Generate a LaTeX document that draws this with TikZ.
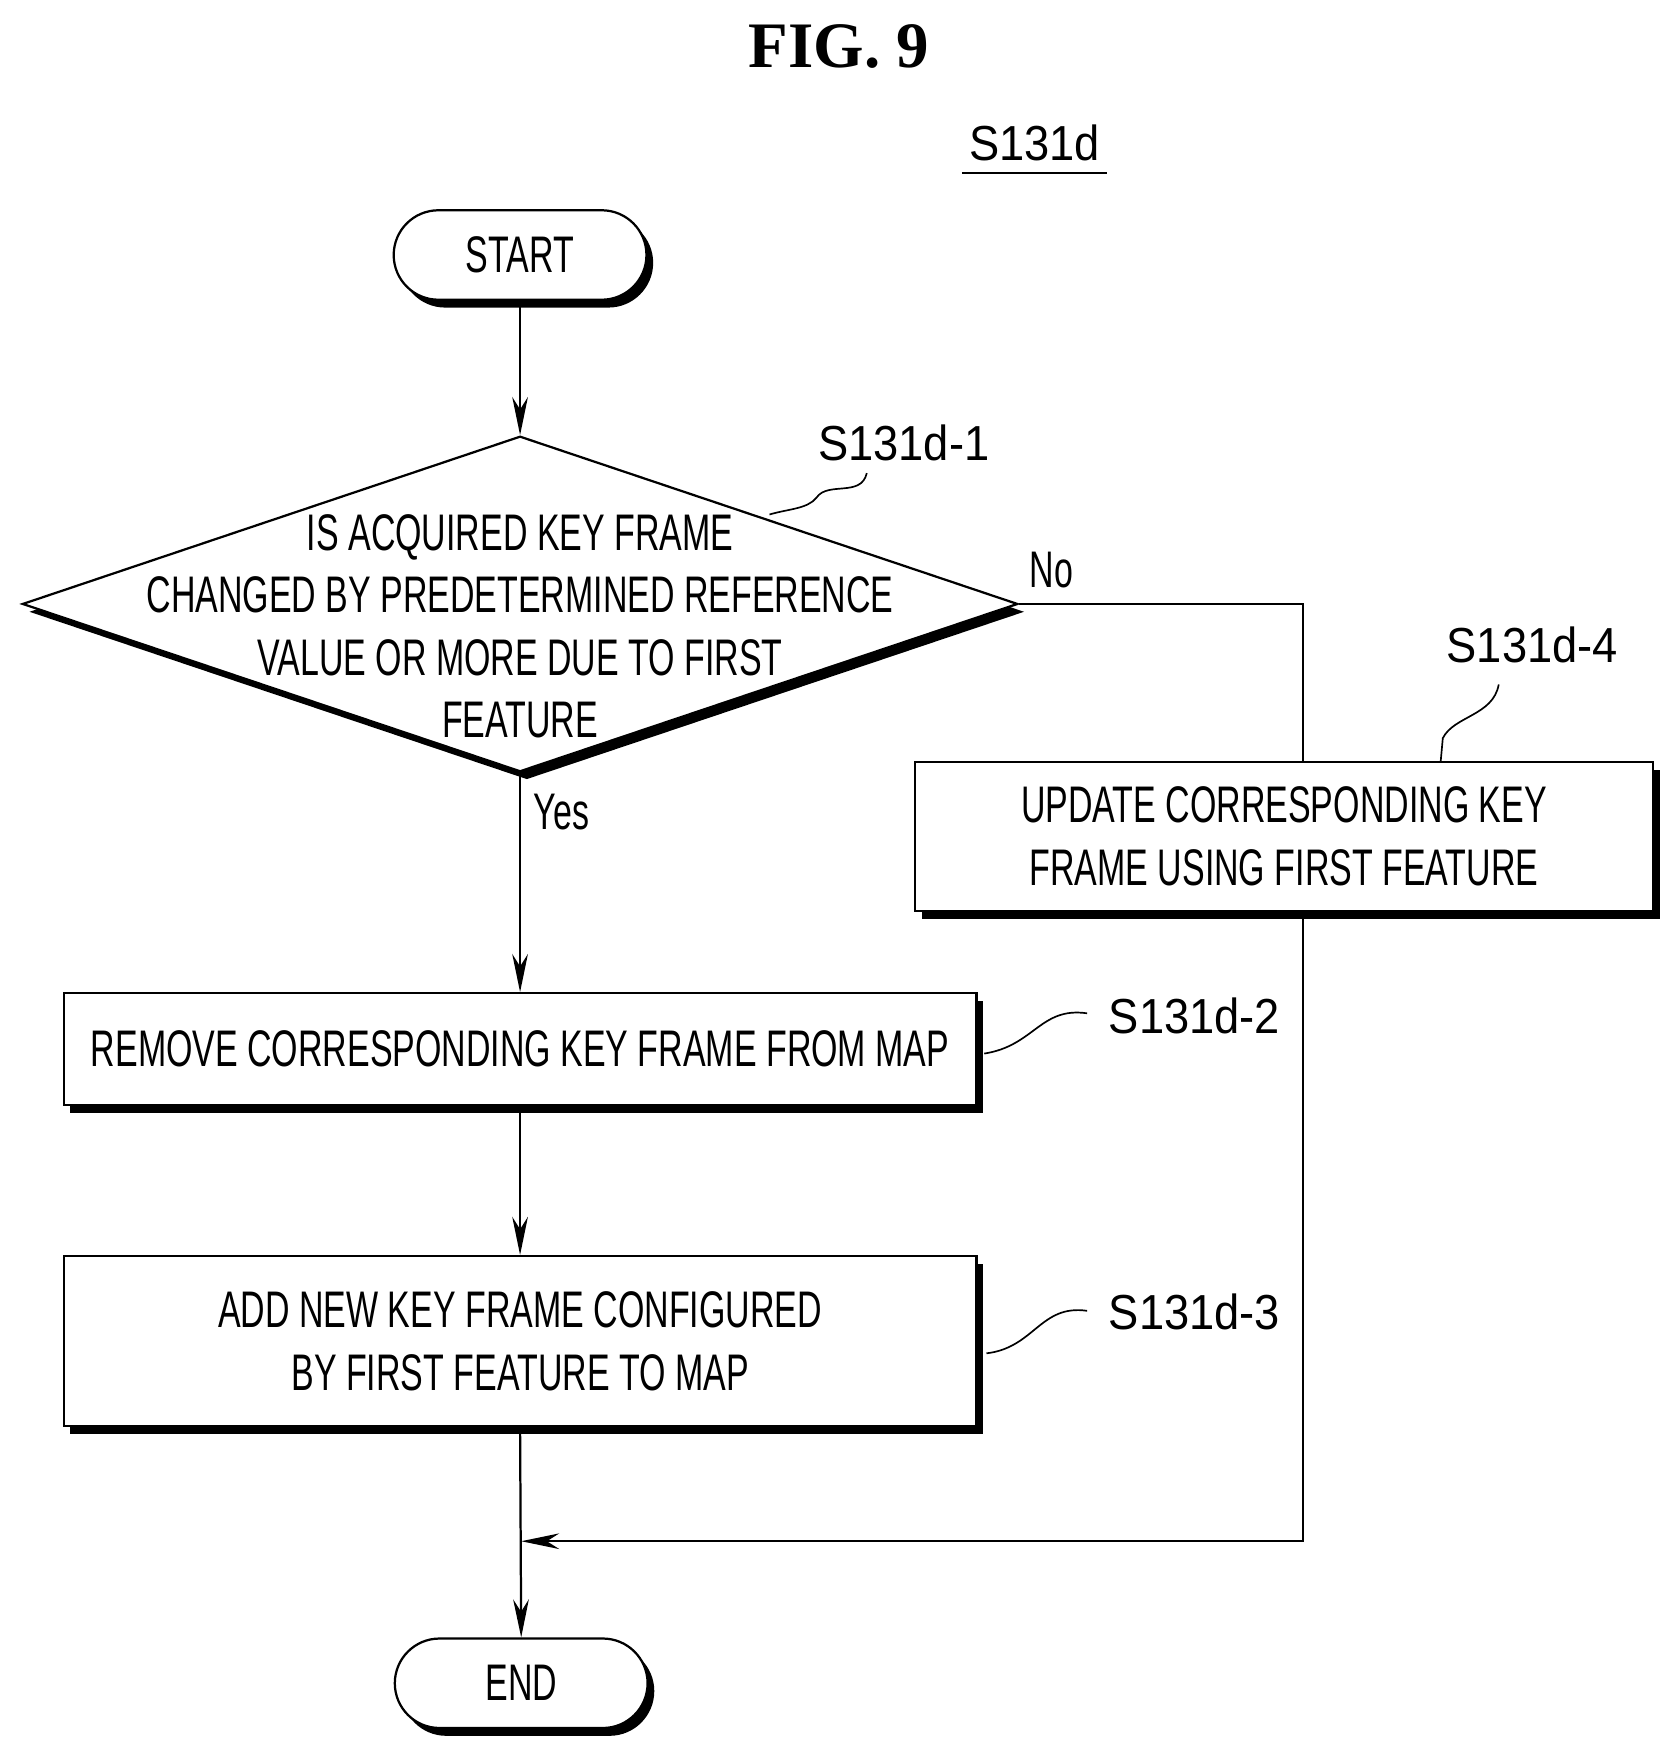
\documentclass[tikz,border=0pt]{standalone}
\usepackage{fontspec}
\setmainfont{Liberation Serif}
\newfontfamily\cond[FakeStretch=0.66]{Liberation Sans}
\newfontfamily\lab[FakeStretch=0.92]{Liberation Sans}
\usetikzlibrary{shapes.geometric,shapes.misc,shadows,arrows.meta}
\begin{document}
\begin{tikzpicture}[x=1pt,y=-1pt,
  every node/.style={inner sep=0pt},
  txt/.style={font=\cond\fontsize{46}{56}\selectfont,align=center},
  lbl/.style={font=\lab\fontsize{44}{50}\selectfont},
  sh/.style={drop shadow={shadow xshift=6pt,shadow yshift=-7pt,opacity=1,fill=black}},
  box/.style={draw,line width=2pt,fill=white,sh,rectangle},
  pill/.style={draw,line width=2pt,fill=white,sh,rounded rectangle,minimum width=226pt,minimum height=80pt,txt},
  ln/.style={line width=2pt},
  arr/.style={ln,-{Stealth[length=34pt,width=14pt]}},
  lead/.style={line width=1.5pt}]
\useasboundingbox (0,0) rectangle (1500,1562);
\node[font=\bfseries\fontsize{58}{60}\selectfont] (title) at (750,42) {FIG. 9};
\node[lbl] (fig) at (925,128) {S131d};
\draw[line width=2pt] (860,155) -- (990,155);
\node[pill] (start) at (465,228) {START};
\node[draw,line width=2pt,fill=white,sh,diamond,aspect=2.97,minimum width=890pt,minimum height=300pt] (dec) at (465,540) {};
\node[txt] (dect) at (465,560) {IS ACQUIRED KEY FRAME\\CHANGED BY PREDETERMINED REFERENCE\\VALUE OR MORE DUE TO FIRST\\FEATURE};
\node[box,txt,minimum width=660pt,minimum height=133pt] (upd) at (1148,748) {UPDATE CORRESPONDING KEY\\FRAME USING FIRST FEATURE};
\node[box,txt,minimum width=816pt,minimum height=100pt] (rem) at (465,938) {REMOVE CORRESPONDING KEY FRAME FROM MAP};
\node[box,txt,minimum width=816pt,minimum height=152pt] (add) at (465,1199) {ADD NEW KEY FRAME CONFIGURED\\BY FIRST FEATURE TO MAP};
\node[pill] (end) at (466,1505) {END};
\coordinate (j) at (466,1378);
\coordinate (c1) at (1165,540);
\coordinate (c2) at (1165,1378);
\draw[arr] (start.south) -- (dec.north);
\draw[arr] (dec.south) -- (rem.north);
\draw[arr] (rem.south) -- (add.north);
\draw[arr] (add.south) -- (end.north);
\draw[ln] (dec.east) -- (c1) -- (upd.north -| c1);
\draw[arr] (upd.south -| c2) -- (c2) -- (j);
\node[txt] (no) at (940,510) {No};
\node[txt] (yes) at (502,726) {Yes};
\node[lbl] (l1) at (808,396) {S131d-1};
\node[lbl] (l4) at (1370,577) {S131d-4};
\node[lbl] (l2) at (1068,908) {S131d-2};
\node[lbl] (l3) at (1068,1173) {S131d-3};
\draw[lead] (775,423) .. controls (770,445) and (740,430) .. (730,445) .. controls (722,455) and (705,455) .. (688,460);
\draw[lead] (1340,612) .. controls (1335,640) and (1300,640) .. (1290,660) -- (1288,682);
\draw[lead] (972,906) .. controls (930,900) and (925,935) .. (880,942);
\draw[lead] (972,1172) .. controls (930,1166) and (925,1205) .. (882,1210);
\end{tikzpicture}
\end{document}
